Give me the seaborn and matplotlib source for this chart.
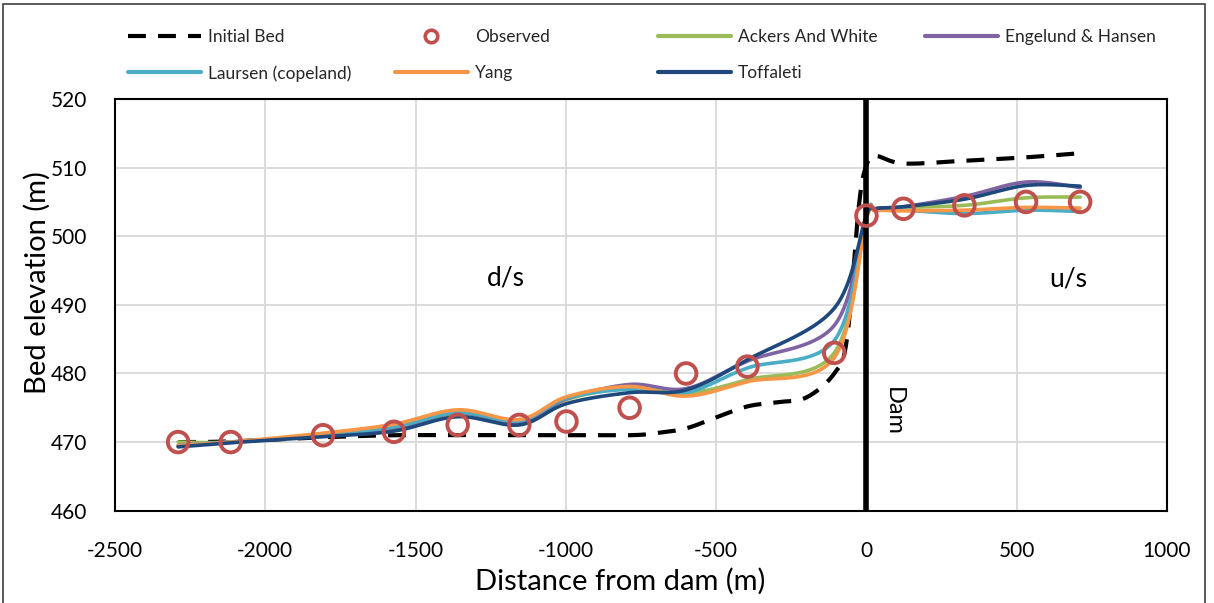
import numpy as np
import pandas as pd
import matplotlib
matplotlib.use("Agg")
import matplotlib.pyplot as plt
from matplotlib.lines import Line2D
from matplotlib.patches import Rectangle
import seaborn as sns

# ---- data -------------------------------------------------------------
obs_x = [-2290, -2115, -1808, -1572, -1360, -1155, -998, -788, -600, -396, -107, 0, 123, 326, 531, 711]
obs_y = [470.0, 470.0, 471.0, 471.5, 472.5, 472.5, 473.0, 475.0, 480.0, 481.0, 483.0, 503.0, 504.0, 504.5, 505.0, 505.0]

bed_x = [-2290, -2115, -1808, -1572, -1360, -1155, -998, -788, -700, -600, -500, -396, -300, -200,
         -107, -65, -25, 0, 30, 123, 326, 531, 711]
bed_y = [470.0, 470.1, 470.7, 471.0, 471.0, 471.0, 471.0, 471.0, 471.3, 472.0, 473.6, 475.2, 475.8, 476.5,
         480.0, 485.0, 504.5, 510.3, 511.7, 510.6, 511.0, 511.5, 512.1]

sta_x = [-2290, -2115, -1808, -1572, -1360, -1155, -998, -788, -600, -396, -107, 0, 30, 123, 326, 531, 711]
ackers = [470.0, 470.0, 471.0, 471.9, 474.2, 472.9, 476.2, 477.9, 477.1, 479.1, 483.0, 502.8, 504.0, 504.2, 504.5, 505.6, 505.7]
engelund = [469.5, 470.0, 471.0, 472.0, 474.3, 472.9, 476.3, 478.4, 477.8, 481.8, 487.0, 503.0, 504.0, 504.3, 505.8, 507.9, 507.1]
laursen = [469.5, 470.0, 471.0, 472.2, 474.3, 473.1, 476.4, 477.7, 477.2, 480.8, 484.8, 502.8, 503.8, 503.8, 503.3, 503.8, 503.6]
yang = [469.5, 470.0, 471.3, 472.6, 474.7, 473.3, 476.6, 478.1, 476.7, 478.8, 482.3, 502.5, 503.7, 503.7, 503.8, 504.2, 504.1]
toffaleti = [469.3, 469.9, 470.8, 471.6, 473.7, 472.5, 475.6, 477.2, 477.6, 482.0, 489.5, 503.0, 504.0, 504.3, 505.4, 507.4, 507.3]

methods = ["Ackers And White", "Engelund & Hansen", "Laursen (copeland)", "Yang", "Toffaleti"]
method_vals = [ackers, engelund, laursen, yang, toffaleti]
colors = {
    "Ackers And White": "#9BBB59",
    "Engelund & Hansen": "#8064A2",
    "Laursen (copeland)": "#4BACC6",
    "Yang": "#F79646",
    "Toffaleti": "#1F497D",
}
obs_color = "#C0504D"

x_ticks = [-2500, -2000, -1500, -1000, -500, 0, 500, 1000]
y_ticks = [460, 470, 480, 490, 500, 510, 520]

# ---- layout -----------------------------------------------------------
W, H = 1214, 603
AX_L, AX_R, AX_T, AX_B = 115, 1167, 99, 510.7
XMIN, XMAX, YMIN, YMAX = -2500, 1000, 460, 520
SX = (AX_R - AX_L) / (XMAX - XMIN)
SY = (AX_B - AX_T) / (YMAX - YMIN)


def smooth(xs, ys, n=40):
    """Bezier smoothing through the points, computed in screen proportions."""
    p = np.column_stack([(np.asarray(xs, float) - XMIN) * SX, (np.asarray(ys, float) - YMIN) * SY])
    out = []
    m = len(p)
    t = np.linspace(0, 1, n)[:, None]
    for i in range(m - 1):
        p0, p3 = p[i], p[i + 1]
        prev = p[i - 1] if i > 0 else p[i]
        nxt = p[i + 2] if i + 2 < m else p[i + 1]
        c1 = p0 + (p3 - prev) / 6.0
        c2 = p3 - (nxt - p0) / 6.0
        seg = ((1 - t) ** 3) * p0 + 3 * ((1 - t) ** 2) * t * c1 + 3 * (1 - t) * t ** 2 * c2 + t ** 3 * p3
        out.append(seg if i == 0 else seg[1:])
    out = np.vstack(out)
    return out[:, 0] / SX + XMIN, out[:, 1] / SY + YMIN


sns.set_theme(style="whitegrid")
plt.rcParams["font.family"] = ["Lato", "DejaVu Sans"]

fig = plt.figure(figsize=(W / 100, H / 100), dpi=100)
ax = fig.add_axes([AX_L / W, 1 - AX_B / H, (AX_R - AX_L) / W, (AX_B - AX_T) / H])
ax.set_facecolor("white")

# initial bed profile
bx, by = smooth(bed_x, bed_y)
bed_df = pd.DataFrame({"x": bx, "y": by})
sns.lineplot(data=bed_df, x="x", y="y", ax=ax, sort=False, estimator=None,
             color="black", linewidth=3.0, zorder=3)
ax.lines[-1].set_dashes((4.3, 2.9))

# model results
frames = []
for name, vals in zip(methods, method_vals):
    sx, sy = smooth(sta_x, vals)
    frames.append(pd.DataFrame({"x": sx, "y": sy, "Method": name}))
model_df = pd.concat(frames, ignore_index=True)
for name in methods:
    sns.lineplot(data=model_df[model_df["Method"] == name], x="x", y="y", ax=ax, sort=False,
                 estimator=None, color=colors[name], linewidth=2.6, zorder=4)

# dam wall
ax.axvline(0, color="black", linewidth=4.0, zorder=5)

# observed bed
ax.scatter(obs_x, obs_y, s=220, facecolors="none", edgecolors=obs_color, linewidths=2.8, zorder=6)

ax.set_xlim(XMIN, XMAX)
ax.set_ylim(YMIN, YMAX)
ax.set_xticks(x_ticks)
ax.set_yticks(y_ticks)
ax.set_xticklabels([str(v) for v in x_ticks])
ax.set_yticklabels([str(v) for v in y_ticks])
ax.tick_params(axis="both", length=0, labelsize=15, colors="black")
ax.tick_params(axis="x", pad=22)
ax.tick_params(axis="y", pad=20)
ax.grid(True, color="#d9d9d9", linewidth=1.3)
for s in ax.spines.values():
    s.set_visible(True)
    s.set_color("black")
    s.set_linewidth(1.5)

ax.set_xlabel("Distance from dam (m)", fontsize=21, color="black")
ax.set_ylabel("Bed elevation (m)", fontsize=21, color="black")
ax.xaxis.set_label_coords(0.48, -0.14)
ax.yaxis.set_label_coords(-0.061, 0.555)

ax.text(-1201, 493.9, "d/s", fontsize=19, ha="center", va="center", color="black")
ax.text(672, 493.7, "u/s", fontsize=19, ha="center", va="center", color="black")
ax.text(88, 474.4, "Dam", fontsize=17, ha="center", va="center", rotation=-90, color="black")

# legend, four evenly spaced columns
h_bed = Line2D([], [], color="black", linewidth=3.0, dashes=(4.3, 2.9))
h_obs = Line2D([], [], linestyle="none", marker="o", markersize=9, markerfacecolor="none",
               markeredgecolor=obs_color, markeredgewidth=2.6)
h = {n: Line2D([], [], color=colors[n], linewidth=3.0) for n in methods}
columns = [
    ([h_bed, h["Laursen (copeland)"]], ["Initial Bed", "Laursen (copeland)"], 128),
    ([h_obs, h["Yang"]], ["Observed", "Yang"], 395),
    ([h["Ackers And White"], h["Toffaleti"]], ["Ackers And White", "Toffaleti"], 658),
    ([h["Engelund & Hansen"]], ["Engelund & Hansen"], 925),
]
for handles, labels, xpx in columns:
    fig.legend(handles, labels, loc="upper left", bbox_to_anchor=(xpx / W, 1 - 29 / H),
               frameon=False, fontsize=12.5, handlelength=4.2, handletextpad=0.4,
               borderpad=0, borderaxespad=0, labelspacing=1.15)

# chart border
fig.patches.append(Rectangle((3 / W, -0.02), (1205 - 3) / W, 1 - 4 / H + 0.02,
                             transform=fig.transFigure, fill=False, edgecolor="#404040",
                             linewidth=1.2, zorder=0))

fig.savefig("out.png", dpi=100)
